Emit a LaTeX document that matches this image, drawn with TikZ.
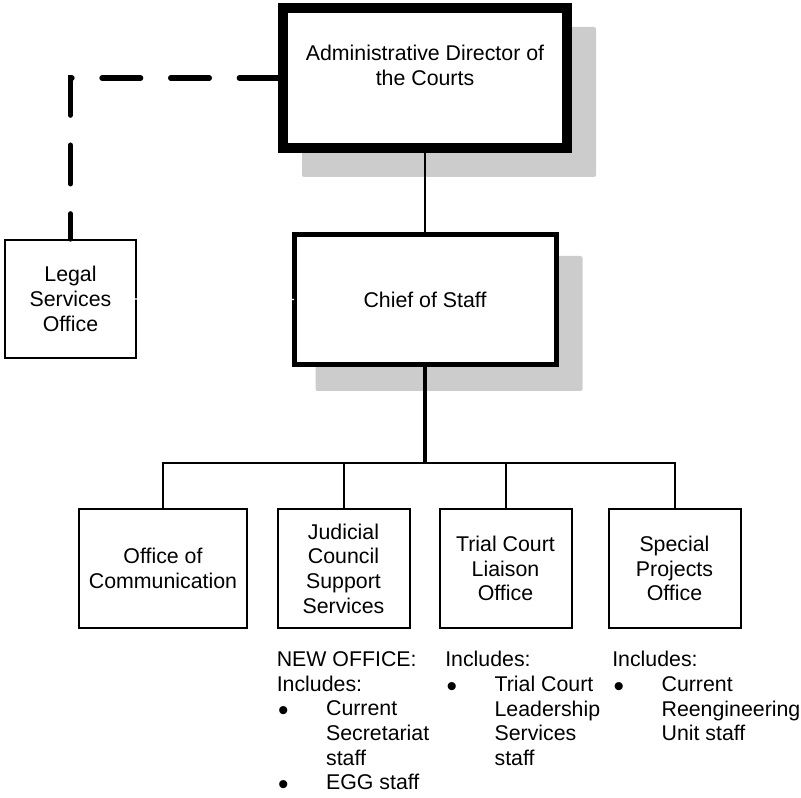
\documentclass[tikz,border=0pt]{standalone}
\usepackage{fontspec}
\setmainfont{Liberation Sans}
\usetikzlibrary{backgrounds}

\tikzset{
  box/.style={draw, fill=white, line width=1.5pt, inner sep=0pt, align=center},
  headbox/.style={box, line width=7.5pt},
  chiefbox/.style={box, line width=3.75pt, minimum width=196.5pt, minimum height=97.5pt},
  unitbox/.style={box, minimum width=99pt, minimum height=89.25pt},
  notes/.style={anchor=north west, inner sep=0pt, align=left},
  link/.style={line width=1.5pt},
  dashlink/.style={line width=4pt, line cap=round, dash pattern=on 29pt off 22.5pt},
  shadowbox/.style={fill=black!20, rounded corners=1.5pt},
}
\newcommand\bul{\makebox[37pt][l]{\hspace{1pt}\raisebox{-3.5pt}[0pt][0pt]{\scalebox{1.4}{\textbullet}}}}
\newcommand\ind{\makebox[37pt]{}}

\begin{document}
\begin{tikzpicture}[x=0.75pt, y=-0.75pt, font=\fontsize{16pt}{18.5pt}\selectfont]
\useasboundingbox (0,0) rectangle (801,798);
% top of the chart
\node[headbox] (director) at (425,78)
  {\parbox[c][105pt][t]{213pt}{\centering\vspace*{28pt}Administrative Director of\\the Courts}};
\node[chiefbox] (chief) at (425,299.5) {Chief of Staff};
\node[box, minimum width=98.25pt, minimum height=88.5pt] (legal) at (70.5,299) {Legal\\Services\\Office};
% offices under the chief of staff
\node[unitbox, minimum width=126pt] (office) at (163,568.5) {Office of\\Communication};
\node[unitbox] (judicial) at (343.5,568.5) {Judicial\\Council\\Support\\Services};
\node[unitbox] (trial) at (505.5,568.5) {Trial Court\\Liaison\\Office};
\node[unitbox] (special) at (674.5,568.5) {Special\\Projects\\Office};
\coordinate (bus) at (425,463);
% notes below the boxes
\node[notes] (jcnotes) at (276.5,651.5) {NEW OFFICE:\\Includes:\\\bul Current\\\ind Secretariat\\\ind staff\\\bul EGG staff};
\node[notes] (tcnotes) at (445,651) {Includes:\\\bul Trial Court\\\ind Leadership\\\ind Services\\\ind staff};
\node[notes] (spnotes) at (612,651) {Includes:\\\bul Current\\\ind Reengineering\\\ind Unit staff};
% shadows
\begin{scope}[on background layer]
\fill[shadowbox] ([shift={(24,24)}]director.north west) rectangle ([shift={(24,24)}]director.south east);
\fill[shadowbox] ([shift={(24,24)}]chief.north west) rectangle ([shift={(24,24)}]chief.south east);
\end{scope}
% lines
\draw[link] (director.south) -- (chief.north);
\draw[link, line width=2.75pt] (chief.south) -- (bus);
\draw[link] (office.north) |- (bus) -| (special.north);
\draw[link] (judicial.north) -- (judicial.north |- bus);
\draw[link] (trial.north) -- (trial.north |- bus);
\draw[dashlink] (director.west) -| (legal.north);
\draw[white, line width=1pt, shorten <=-1.5pt, shorten >=-2pt] (legal.east) -- (chief.west);
\end{tikzpicture}
\end{document}
